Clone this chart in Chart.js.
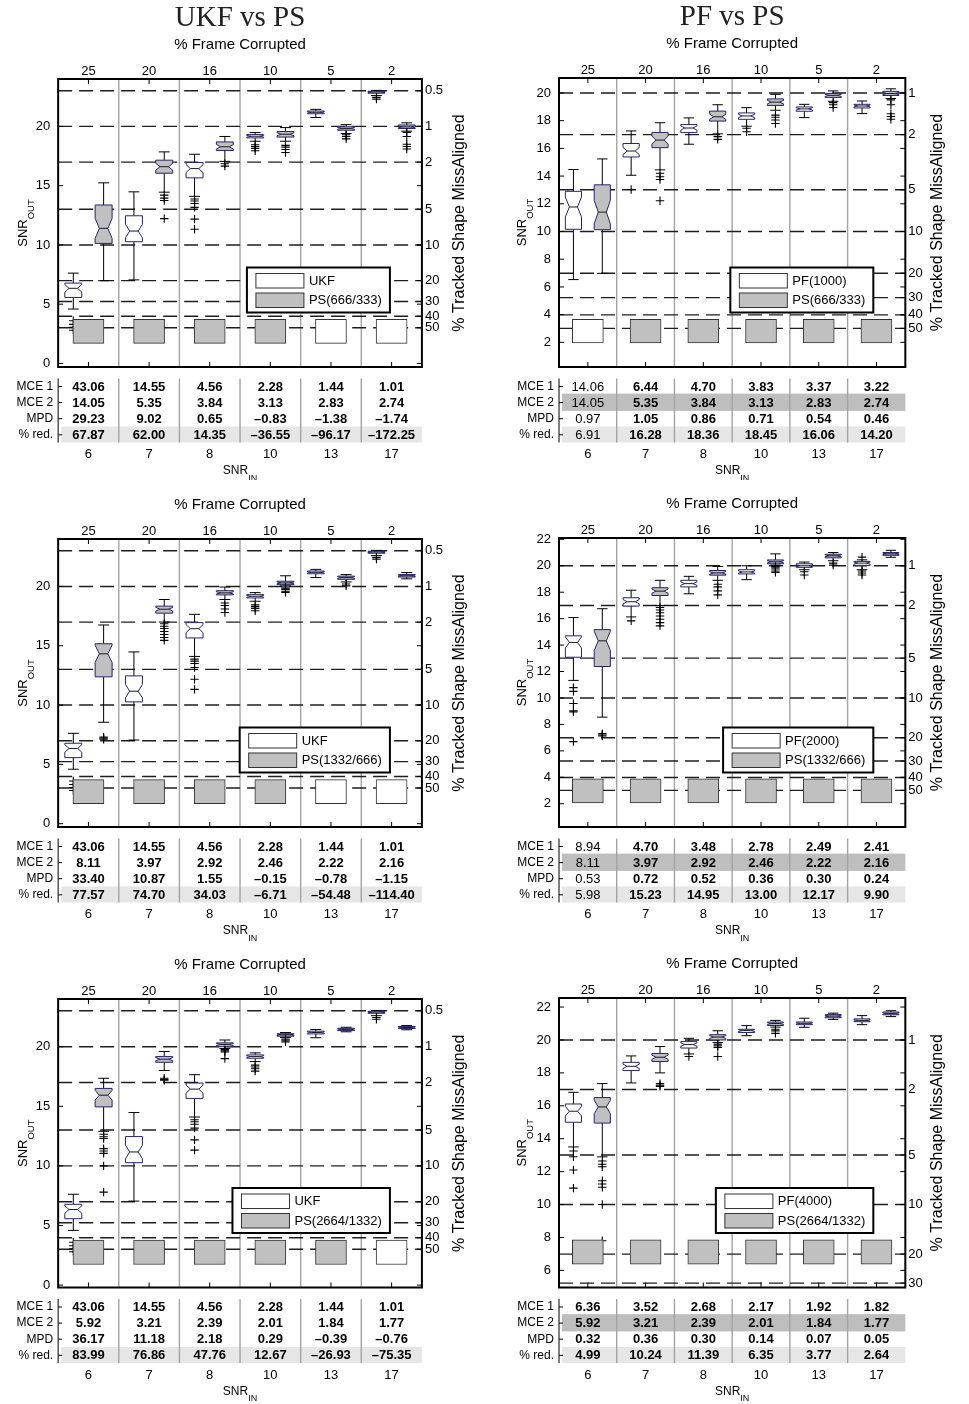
<!DOCTYPE html>
<html>
<head>
<meta charset="utf-8">
<title>UKF / PF vs PS</title>
<script src="https://cdn.jsdelivr.net/npm/chart.js@4.4.1/dist/chart.umd.min.js"></script>
<style>
  html, body { margin: 0; padding: 0; background: #fff; }
  #page { position: relative; width: 969px; height: 1404px; overflow: hidden; background: #fff; }
  #page canvas { position: absolute; }
</style>
</head>
<body>
<div id="page">
  <canvas id="c1" width="484" height="480" style="left:0;top:0;width:484px;height:480px"></canvas>
  <canvas id="c2" width="485" height="480" style="left:484px;top:0;width:485px;height:480px"></canvas>
  <canvas id="c3" width="484" height="470" style="left:0;top:480px;width:484px;height:470px"></canvas>
  <canvas id="c4" width="485" height="470" style="left:484px;top:480px;width:485px;height:470px"></canvas>
  <canvas id="c5" width="484" height="454" style="left:0;top:950px;width:484px;height:454px"></canvas>
  <canvas id="c6" width="485" height="454" style="left:484px;top:950px;width:485px;height:454px"></canvas>
</div>
<script>
// ---------- axis categories ----------
const snrIn = [6, 7, 8, 10, 13, 17];
const frameCorrupted = [25, 20, 16, 10, 5, 2];
const missPct = [0.5, 1, 2, 5, 10, 20, 30, 40, 50];
const rowNames = ['MCE 1', 'MCE 2', 'MPD', '% red.'];
const yTicksWide = [0, 5, 10, 15, 20];
const yTicksPf1000 = [2, 4, 6, 8, 10, 12, 14, 16, 18, 20];
const yTicksPf2000 = [2, 4, 6, 8, 10, 12, 14, 16, 18, 20, 22];
const yTicksPf4000 = [6, 8, 10, 12, 14, 16, 18, 20, 22];

// ---------- SNR_OUT distributions: [lower whisker, Q1, median, Q3, upper whisker] per SNR_IN ----------
const ukfBox = [
  [4.59, 5.57, 6.34, 6.78, 7.62],
  [7.05, 10.27, 11.17, 12.46, 14.48],
  [14.1, 15.66, 16.44, 16.95, 17.65],
  [18.75, 19.03, 19.17, 19.31, 19.48],
  [20.75, 21.07, 21.19, 21.3, 21.44],
  [22.6, 22.8, 22.9, 22.97, 23.04]
];
const ukfOut = [[3.6, 3.3, 3.05, 2.8], [], [13.87, 13.7, 13.5, 13.17, 12.18, 11.32], [18.45, 18.3, 18.15, 17.95], [], [22.45, 22.3]];

const ps666Box = [
  [6.98, 10.13, 11.4, 13.37, 15.24],
  [14.45, 16.05, 16.6, 17.15, 17.85],
  [17.05, 17.97, 18.28, 18.69, 19.15],
  [18.75, 19.1, 19.34, 19.57, 19.9],
  [19.4, 19.68, 19.83, 19.97, 20.15],
  [19.6, 19.82, 19.96, 20.12, 20.3]
];
const ps666Out = [[], [14.2, 13.95, 13.75, 12.22], [16.85, 16.65], [18.4, 18.25, 18.05, 17.8], [19.3, 19.15, 18.95], [19.5, 19.15, 18.5, 18.3, 18.1]];

const pf1000Box = [
  [6.53, 10.16, 11.77, 12.9, 14.47],
  [14.06, 15.38, 15.81, 16.35, 17.26],
  [16.3, 17.14, 17.47, 17.72, 18.2],
  [17.6, 18.1, 18.34, 18.56, 18.94],
  [18.22, 18.68, 18.85, 18.99, 19.18],
  [18.51, 18.92, 19.06, 19.18, 19.42]
];
const pf1000Out = [[], [13.03], [], [17.45, 17.2], [], []];

const ps1332Box = [
  [8.55, 12.38, 14.32, 15.17, 16.75],
  [17.0, 17.75, 18.08, 18.34, 18.9],
  [18.9, 19.29, 19.46, 19.64, 19.95],
  [20.05, 20.15, 20.3, 20.44, 20.9],
  [20.38, 20.6, 20.75, 20.87, 21.0],
  [20.64, 20.79, 20.9, 21.0, 21.17]
];
const ps1332Out = [[7.3, 7.2, 7.12], [16.85, 16.65, 16.45, 16.2, 15.95, 15.7, 15.45], [18.6, 18.4, 18.1, 17.8], [19.95, 19.85, 19.75, 19.6, 19.5], [20.2, 20.05], []];

const pf2000Box = [
  [11.33, 13.08, 14.2, 14.7, 16.08],
  [16.13, 16.95, 17.28, 17.58, 18.15],
  [17.88, 18.4, 18.65, 18.9, 19.2],
  [18.95, 19.38, 19.53, 19.7, 20.0],
  [19.7, 19.88, 20.0, 20.15, 20.28],
  [19.7, 20.03, 20.2, 20.33, 20.45]
];
const pf2000Out = [[10.78, 10.5, 9.58, 9.03, 8.95, 6.7], [15.83], [], [], [19.55, 19.3], [20.65, 19.6, 19.45, 19.3]];

const ps2664Box = [
  [12.9, 14.95, 15.93, 16.5, 17.35],
  [18.0, 18.69, 18.95, 19.18, 19.6],
  [19.85, 20.0, 20.18, 20.32, 20.56],
  [20.78, 20.88, 21.0, 21.09, 21.19],
  [21.25, 21.35, 21.45, 21.54, 21.63],
  [21.42, 21.53, 21.61, 21.7, 21.78]
];
const ps2664Out = [[12.65, 12.45, 12.3, 11.45, 11.25, 11.05, 10.0, 7.8], [17.35, 17.25, 17.18], [19.75, 19.65, 19.55, 19.0], [20.65, 20.55, 20.4], [], []];

const pf4000Box = [
  [13.5, 15.0, 15.67, 16.11, 16.82],
  [17.39, 18.14, 18.4, 18.64, 19.03],
  [19.15, 19.51, 19.72, 19.9, 20.1],
  [20.26, 20.45, 20.57, 20.65, 20.87],
  [20.77, 20.93, 21.01, 21.09, 21.32],
  [20.93, 21.11, 21.19, 21.28, 21.48]
];
const pf4000Out = [[13.25, 12.9, 12.1, 11.0], [], [19.0], [], [], []];

// ---------- error table ----------
const ukfMce = [43.06, 14.55, 4.56, 2.28, 1.44, 1.01];
const pf1000Mce = [14.06, 6.44, 4.70, 3.83, 3.37, 3.22];
const pf2000Mce = [8.94, 4.70, 3.48, 2.78, 2.49, 2.41];
const pf4000Mce = [6.36, 3.52, 2.68, 2.17, 1.92, 1.82];
const ps666Mce = [14.05, 5.35, 3.84, 3.13, 2.83, 2.74];
const ps1332Mce = [8.11, 3.97, 2.92, 2.46, 2.22, 2.16];
const ps2664Mce = [5.92, 3.21, 2.39, 2.01, 1.84, 1.77];

const mpdUkf666 = [29.23, 9.02, 0.65, -0.83, -1.38, -1.74];
const redUkf666 = [67.87, 62.00, 14.35, -36.55, -96.17, -172.25];
const mpdPf1000 = [0.97, 1.05, 0.86, 0.71, 0.54, 0.46];
const redPf1000 = [6.91, 16.28, 18.36, 18.45, 16.06, 14.20];
const mpdUkf1332 = [33.40, 10.87, 1.55, -0.15, -0.78, -1.15];
const redUkf1332 = [77.57, 74.70, 34.03, -6.71, -54.48, -114.40];
const mpdPf2000 = [0.53, 0.72, 0.52, 0.36, 0.30, 0.24];
const redPf2000 = [5.98, 15.23, 14.95, 13.00, 12.17, 9.90];
const mpdUkf2664 = [36.17, 11.18, 2.18, 0.29, -0.39, -0.76];
const redUkf2664 = [83.99, 76.86, 47.76, 12.67, -26.93, -75.35];
const mpdPf4000 = [0.32, 0.36, 0.30, 0.14, 0.07, 0.05];
const redPf4000 = [4.99, 10.24, 11.39, 6.35, 3.77, 2.64];

// which tracker has the lower miss-alignment rate (1 = PS, 0 = reference tracker)
const psBetterUkf666 = [1, 1, 1, 1, 0, 0];
const psBetterPf1000 = [0, 1, 1, 1, 1, 1];
const psBetterUkf1332 = [1, 1, 1, 1, 0, 0];
const psBetterPf2000 = [1, 1, 1, 1, 1, 1];
const psBetterUkf2664 = [1, 1, 1, 1, 1, 0];
const psBetterPf4000 = [1, 1, 1, 1, 1, 1];

// ---------- styling ----------
const SANS = '"Liberation Sans", Arial, Helvetica, sans-serif';
const SERIF = '"Liberation Serif", "Times New Roman", serif';
const GRAY = '#c0c0c0';
const WHITE = '#ffffff';
const BOX_EDGE = '#24246c';
const SEP = '#a3a3a3';
const NOTCH_N = 36;          // sample count used for the notch width
const BOX_HALF = 0.14;       // half box width, in column units
const CAP_HALF = 0.09;
const PAIR_OFFSET = 0.25;

// right axis: miss-alignment rate expressed on the SNR scale
const missSnr = p => 10 * Math.log10(100 / p);
const fmt = v => (v < 0 ? '\u2013' : '') + Math.abs(v).toFixed(2);

const colGeom = [
  { left: 55, right: 425, w: 484, outDx: -36, missDx: 38 },
  { left: 75, right: 446, w: 485, outDx: -38, missDx: 32 }
];
const rowGeom = [
  { h: 480, top: [79, 78], bottom: 367 },
  { h: 470, top: [59, 58], bottom: 347 },
  { h: 454, top: [49, 48], bottom: 337.5 }
];

const panels = [
  { id: 'c1', col: 0, row: 0, title: 'UKF vs PS', yMin: -0.3, yMax: 24, yTicks: yTicksWide,
    a: { name: 'UKF', box: ukfBox, out: ukfOut }, b: { name: 'PS(666/333)', box: ps666Box, out: ps666Out },
    mce1: ukfMce, mce2: ps666Mce, mpd: mpdUkf666, red: redUkf666, psBetter: psBetterUkf666,
    band: [1.7, 3.72], plainFirst: false, shadeMce2: false },
  { id: 'c2', col: 1, row: 0, title: 'PF vs PS', yMin: 0.22, yMax: 21.08, yTicks: yTicksPf1000,
    a: { name: 'PF(1000)', box: pf1000Box, out: pf1000Out }, b: { name: 'PS(666/333)', box: ps666Box, out: ps666Out },
    mce1: pf1000Mce, mce2: ps666Mce, mpd: mpdPf1000, red: redPf1000, psBetter: psBetterPf1000,
    band: [1.95, 3.66], plainFirst: true, shadeMce2: true },
  { id: 'c3', col: 0, row: 1, title: '', yMin: -0.28, yMax: 24, yTicks: yTicksWide,
    a: { name: 'UKF', box: ukfBox, out: ukfOut }, b: { name: 'PS(1332/666)', box: ps1332Box, out: ps1332Out },
    mce1: ukfMce, mce2: ps1332Mce, mpd: mpdUkf1332, red: redUkf1332, psBetter: psBetterUkf1332,
    band: [1.69, 3.72], plainFirst: false, shadeMce2: false },
  { id: 'c4', col: 1, row: 1, title: '', yMin: 0.24, yMax: 22.1, yTicks: yTicksPf2000,
    a: { name: 'PF(2000)', box: pf2000Box, out: pf2000Out }, b: { name: 'PS(1332/666)', box: ps1332Box, out: ps1332Out },
    mce1: pf2000Mce, mce2: ps1332Mce, mpd: mpdPf2000, red: redPf2000, psBetter: psBetterPf2000,
    band: [2.06, 3.88], plainFirst: true, shadeMce2: true },
  { id: 'c5', col: 0, row: 2, title: '', yMin: -0.2, yMax: 24, yTicks: yTicksWide,
    a: { name: 'UKF', box: ukfBox, out: ukfOut }, b: { name: 'PS(2664/1332)', box: ps2664Box, out: ps2664Out },
    mce1: ukfMce, mce2: ps2664Mce, mpd: mpdUkf2664, red: redUkf2664, psBetter: psBetterUkf2664,
    band: [1.73, 3.78], plainFirst: false, shadeMce2: false },
  { id: 'c6', col: 1, row: 2, title: '', yMin: 4.96, yMax: 22.55, yTicks: yTicksPf4000,
    a: { name: 'PF(4000)', box: pf4000Box, out: pf4000Out }, b: { name: 'PS(2664/1332)', box: ps2664Box, out: ps2664Out },
    mce1: pf4000Mce, mce2: ps2664Mce, mpd: mpdPf4000, red: redPf4000, psBetter: psBetterPf4000,
    band: [6.38, 7.85], plainFirst: false, shadeMce2: true }
];

function seg(ctx, x1, y1, x2, y2) {
  ctx.beginPath(); ctx.moveTo(x1, y1); ctx.lineTo(x2, y2); ctx.stroke();
}

// notched box with whiskers, positioned through the chart scales
function drawBox(ctx, xs, ys, xc, b, fill) {
  const [lo, q1, med, q3, hi] = b;
  const L = xs.getPixelForValue(xc - BOX_HALF), R = xs.getPixelForValue(xc + BOX_HALF);
  const C = xs.getPixelForValue(xc);
  const cL = xs.getPixelForValue(xc - CAP_HALF), cR = xs.getPixelForValue(xc + CAP_HALF);
  const inset = (R - L) / 4;
  const notch = 1.57 * (q3 - q1) / Math.sqrt(NOTCH_N);
  const pLo = ys.getPixelForValue(lo), pHi = ys.getPixelForValue(hi);
  const p1 = ys.getPixelForValue(q1), p3 = ys.getPixelForValue(q3), pm = ys.getPixelForValue(med);
  const nLo = ys.getPixelForValue(med - notch), nHi = ys.getPixelForValue(med + notch);

  ctx.strokeStyle = '#000'; ctx.lineWidth = 1;
  seg(ctx, C, p3, C, pHi); seg(ctx, C, p1, C, pLo);
  seg(ctx, cL, pHi, cR, pHi); seg(ctx, cL, pLo, cR, pLo);

  ctx.beginPath();
  ctx.moveTo(L, p1); ctx.lineTo(L, nLo); ctx.lineTo(L + inset, pm); ctx.lineTo(L, nHi); ctx.lineTo(L, p3);
  ctx.lineTo(R, p3); ctx.lineTo(R, nHi); ctx.lineTo(R - inset, pm); ctx.lineTo(R, nLo); ctx.lineTo(R, p1);
  ctx.closePath();
  ctx.fillStyle = fill; ctx.fill();
  ctx.strokeStyle = BOX_EDGE; ctx.lineWidth = 1; ctx.stroke();
  ctx.strokeStyle = '#1a1a1a';
  seg(ctx, L + inset, pm, R - inset, pm);
}

// label with a subscript, optionally rotated
function drawSub(ctx, main, sub, x, y, rot, size, subSize) {
  ctx.save();
  ctx.translate(x, y); ctx.rotate(rot);
  ctx.fillStyle = '#000'; ctx.textAlign = 'left'; ctx.textBaseline = 'alphabetic';
  ctx.font = size + 'px ' + SANS; const w1 = ctx.measureText(main).width;
  ctx.font = subSize + 'px ' + SANS; const w2 = ctx.measureText(sub).width;
  const x0 = -(w1 + w2) / 2;
  ctx.font = size + 'px ' + SANS; ctx.fillText(main, x0, size * 0.35);
  ctx.font = subSize + 'px ' + SANS; ctx.fillText(sub, x0 + w1, size * 0.35 + subSize * 0.75);
  ctx.restore();
}

function decor(p, cg) {
  return {
    id: 'decor' + p.id,
    beforeDatasetsDraw(chart) {
      const { ctx, chartArea: a, scales: { x, y, y2 } } = chart;
      ctx.save();
      ctx.beginPath(); ctx.rect(a.left, a.top, a.right - a.left, a.bottom - a.top); ctx.clip();
      // column separators
      ctx.strokeStyle = SEP; ctx.lineWidth = 1.4;
      for (let k = 1; k < snrIn.length; k++) {
        const px = x.getPixelForValue(k + 0.5);
        seg(ctx, px, a.top, px, a.bottom);
      }
      // miss-alignment reference levels
      ctx.setLineDash([14, 7]); ctx.strokeStyle = '#1e1e1e'; ctx.lineWidth = 1.4;
      y2.ticks.forEach(t => {
        const py = y2.getPixelForValue(t.value);
        seg(ctx, a.left, py, a.right, py);
      });
      ctx.setLineDash([]);
      // notched boxes for both trackers
      p.a.box.forEach((b, i) => drawBox(ctx, x, y, i + 1 - PAIR_OFFSET, b, WHITE));
      p.b.box.forEach((b, i) => drawBox(ctx, x, y, i + 1 + PAIR_OFFSET, b, GRAY));
      ctx.restore();
    },
    afterDraw(chart) {
      const { ctx, chartArea: a, scales: { x, y, y2 } } = chart;
      const cx = (a.left + a.right) / 2;
      ctx.save();
      // frame and inward ticks
      ctx.strokeStyle = '#000'; ctx.lineWidth = 2;
      ctx.strokeRect(a.left, a.top, a.right - a.left, a.bottom - a.top);
      ctx.lineWidth = 1;
      const TL = 5;
      for (let i = 1; i <= snrIn.length; i++) {
        const px = x.getPixelForValue(i);
        seg(ctx, px, a.top, px, a.top + TL);
        seg(ctx, px, a.bottom, px, a.bottom - TL);
      }
      y.ticks.forEach(t => {
        const py = y.getPixelForValue(t.value);
        seg(ctx, a.left, py, a.left + TL, py);
        seg(ctx, a.right, py, a.right - TL, py);
      });
      y2.ticks.forEach(t => {
        const py = y2.getPixelForValue(t.value);
        seg(ctx, a.right, py, a.right - TL, py);
      });

      // error table under the plot
      const rowY = r => a.bottom + 19.5 + r * 16.1;
      const tTop = a.bottom + 11.5, tBot = a.bottom + 75.5;
      const w = a.right - a.left;
      ctx.fillStyle = '#e6e6e6';
      ctx.fillRect(a.left + 3, rowY(3) - 8.3, w - 3, 16);
      if (p.shadeMce2) {
        ctx.fillStyle = '#bebebe';
        ctx.fillRect(a.left + 3, rowY(1) - 9, w - 3, 17.3);
      }
      ctx.strokeStyle = SEP; ctx.lineWidth = 1.4;
      for (let k = 1; k < snrIn.length; k++) {
        const px = x.getPixelForValue(k + 0.5);
        seg(ctx, px, tTop, px, tBot);
      }
      ctx.strokeStyle = '#000'; ctx.lineWidth = 1;
      seg(ctx, a.left, tTop, a.left, tBot);
      const rows = [p.mce1, p.mce2, p.mpd, p.red];
      ctx.fillStyle = '#000'; ctx.textBaseline = 'middle';
      rows.forEach((vals, r) => {
        const ry = rowY(r);
        seg(ctx, a.left, ry, a.left + 4, ry);
        ctx.font = '12px ' + SANS; ctx.textAlign = 'right';
        ctx.fillText(rowNames[r], a.left - 5, ry);
        ctx.textAlign = 'center';
        vals.forEach((v, i) => {
          const bold = !(p.plainFirst && i === 0);
          ctx.font = (bold ? 'bold ' : '') + '13px ' + SANS;
          ctx.fillText(fmt(v), x.getPixelForValue(i + 1), ry + 0.5);
        });
      });

      // legend
      ctx.font = '13px ' + SANS;
      const tw = Math.max(ctx.measureText(p.a.name).width, ctx.measureText(p.b.name).width);
      const lw = 9 + 48 + 5 + tw + 8, lh = 45;
      const lx = a.right - 32 - lw, ly = a.bottom - 54.5 - lh;
      ctx.fillStyle = '#fff'; ctx.fillRect(lx, ly, lw, lh);
      ctx.strokeStyle = '#000'; ctx.lineWidth = 2; ctx.strokeRect(lx, ly, lw, lh);
      ctx.lineWidth = 1; ctx.strokeStyle = '#333';
      [[p.a.name, WHITE, 6], [p.b.name, GRAY, 25.5]].forEach(([name, fill, dy]) => {
        ctx.fillStyle = fill; ctx.fillRect(lx + 9, ly + dy, 48, 14.5);
        ctx.strokeRect(lx + 9, ly + dy, 48, 14.5);
        ctx.fillStyle = '#000'; ctx.textAlign = 'left'; ctx.textBaseline = 'middle';
        ctx.fillText(name, lx + 9 + 48 + 5, ly + dy + 7.5);
      });

      // titles
      ctx.fillStyle = '#000'; ctx.textAlign = 'center'; ctx.textBaseline = 'middle';
      if (p.title) {
        ctx.fillStyle = '#222';
        ctx.font = '29px ' + SERIF;
        ctx.fillText(p.title, cx, a.top - 61);
        ctx.fillStyle = '#000';
      }
      ctx.font = '15px ' + SANS;
      ctx.fillText('% Frame Corrupted', cx, a.top - 34);
      drawSub(ctx, 'SNR', 'IN', cx, a.bottom + 103, 0, 12, 9);
      drawSub(ctx, 'SNR', 'OUT', a.left + cg.outDx, (a.top + a.bottom) / 2, -Math.PI / 2, 13, 9.5);
      ctx.save();
      ctx.translate(a.right + cg.missDx, (a.top + a.bottom) / 2);
      ctx.rotate(-Math.PI / 2);
      ctx.font = '16px ' + SANS; ctx.textAlign = 'center'; ctx.textBaseline = 'middle'; ctx.fillStyle = '#000';
      ctx.fillText('% Tracked Shape MissAligned', 0, 0);
      ctx.restore();
      ctx.restore();
    }
  };
}

function outlierPoints(s, off) {
  const pts = [];
  s.out.forEach((vals, i) => vals.forEach(v => pts.push({ x: i + 1 + off, y: v })));
  return pts;
}

function makeChart(p) {
  const cg = colGeom[p.col], rg = rowGeom[p.row];
  const top = rg.top[p.col], bottom = rg.bottom;
  const X2H = 20, XH = 100;
  const tickFont = { family: SANS, size: 13 };
  const hidden = { grid: { display: false, drawTicks: false }, border: { display: false } };

  const datasets = [
    {
      type: 'bar', label: 'lower miss-alignment',
      data: p.psBetter.map((w, i) => ({ x: i + 1, y: p.band.slice() })),
      backgroundColor: p.psBetter.map(w => (w ? GRAY : WHITE)),
      borderColor: '#333', borderWidth: 1, borderSkipped: false, barThickness: 31,
      xAxisID: 'x', yAxisID: 'y', order: 0
    },
    {
      type: 'scatter', label: p.a.name + ' outliers', data: outlierPoints(p.a, -PAIR_OFFSET),
      pointStyle: 'cross', pointRadius: 4.2, borderColor: '#000', borderWidth: 1.1,
      backgroundColor: '#000', xAxisID: 'x', yAxisID: 'y', order: 1
    },
    {
      type: 'scatter', label: p.b.name + ' outliers', data: outlierPoints(p.b, PAIR_OFFSET),
      pointStyle: 'cross', pointRadius: 4.2, borderColor: '#000', borderWidth: 1.1,
      backgroundColor: '#000', xAxisID: 'x', yAxisID: 'y', order: 1
    }
  ];

  new Chart(document.getElementById(p.id), {
    type: 'bar',
    data: { datasets },
    options: {
      responsive: false,
      animation: false,
      events: [],
      layout: { padding: { top: top - X2H, bottom: rg.h - bottom - XH, left: 0, right: 0 } },
      plugins: { legend: { display: false }, tooltip: { enabled: false }, title: { display: false } },
      scales: {
        x: {
          type: 'linear', position: 'bottom', min: 0.5, max: 6.5, offset: false, ...hidden,
          afterBuildTicks: s => { s.ticks = snrIn.map((v, i) => ({ value: i + 1, lbl: String(v) })); },
          afterFit: s => { s.height = XH; },
          ticks: { callback: (v, i, t) => t[i].lbl, font: tickFont, color: '#000', padding: 80, maxRotation: 0, autoSkip: false }
        },
        x2: {
          type: 'linear', axis: 'x', position: 'top', min: 0.5, max: 6.5, offset: false, ...hidden,
          afterBuildTicks: s => { s.ticks = frameCorrupted.map((v, i) => ({ value: i + 1, lbl: String(v) })); },
          afterFit: s => { s.height = X2H; },
          ticks: { callback: (v, i, t) => t[i].lbl, font: tickFont, color: '#000', padding: 0, maxRotation: 0, autoSkip: false }
        },
        y: {
          type: 'linear', position: 'left', min: p.yMin, max: p.yMax, ...hidden,
          afterBuildTicks: s => { s.ticks = p.yTicks.map(v => ({ value: v })); },
          afterFit: s => { s.width = cg.left; },
          ticks: { font: tickFont, color: '#000', padding: 8 }
        },
        y2: {
          type: 'linear', axis: 'y', position: 'right', min: p.yMin, max: p.yMax, ...hidden,
          afterBuildTicks: s => {
            s.ticks = missPct.map(pc => ({ value: missSnr(pc), lbl: String(pc) }))
              .filter(t => t.value >= p.yMin && t.value <= p.yMax);
          },
          afterFit: s => { s.width = cg.w - cg.right; },
          ticks: { callback: (v, i, t) => t[i].lbl, font: tickFont, color: '#000', padding: 3 }
        }
      }
    },
    plugins: [decor(p, cg)]
  });
}

panels.forEach(makeChart);
</script>
</body>
</html>
